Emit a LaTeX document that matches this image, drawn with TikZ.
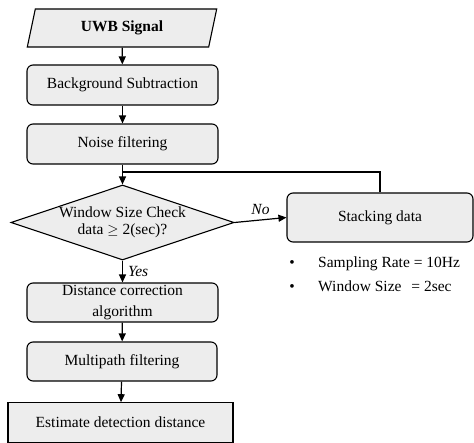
\documentclass[tikz,border=0pt]{standalone}
\usepackage{fontspec}
\setmainfont{Liberation Serif}
\usetikzlibrary{shapes.geometric,arrows.meta}
\begin{document}
\begin{tikzpicture}[x=1pt,y=-1pt,
  every node/.style={font=\fontsize{15.5}{15.5}\selectfont},
  boxbase/.style={draw, line width=1.1pt, fill=black!7, inner sep=0pt, align=center},
  procbox/.style={boxbase, rounded corners=6pt, minimum width=191pt, minimum height=40pt},
  iobox/.style={boxbase, trapezium, trapezium left angle=75, trapezium right angle=105,
    trapezium stretches=true, minimum width=190pt, minimum height=38pt},
  decbox/.style={boxbase, diamond, aspect=2.97, minimum width=223pt, minimum height=75pt},
  endbox/.style={boxbase, minimum width=225pt, minimum height=39.5pt},
  flow/.style={line width=1.2pt, -{Triangle[length=8pt,width=7pt]}},
  plain/.style={line width=1.2pt},
  tag/.style={font=\fontsize{15.5}{15.5}\selectfont\itshape, inner sep=0pt}
]
\useasboundingbox (0,0) rectangle (474,443);

\node[iobox] (uwb) at (122,28) {\textbf{UWB Signal}};
\node[procbox] (bg) at (122.5,85) {Background Subtraction};
\node[procbox] (noise) at (122.5,144) {Noise filtering};
\node[decbox, font=\fontsize{15.5}{17}\selectfont] (chk) at (122.5,222.5)
  {Window Size Check\\data $\geq$ 2(sec)?};
\node[procbox, minimum width=186pt, minimum height=49pt] (stack) at (380,217.5) {Stacking data};
\node[procbox, minimum height=39pt, font=\fontsize{15.5}{21}\selectfont] (dist) at (122.5,302.5)
  {Distance correction\\algorithm};
\node[procbox, minimum width=190pt, minimum height=39pt] (multi) at (122,361.5) {Multipath filtering};
\node[endbox] (est) at (120.5,422.5) {Estimate detection distance};

% sampling notes
\node[anchor=base, inner sep=0pt] (b1) at (292,268) {\textbullet};
\node[anchor=base west, inner sep=0pt] (rate) at (318,268) {Sampling Rate = 10Hz};
\node[anchor=base, inner sep=0pt] (b2) at (292,292) {\textbullet};
\node[anchor=base west, inner sep=0pt] (win) at (318,292) {Window Size\hspace{6pt} = 2sec};

% connectors
\coordinate (join) at (122.5,172);
\draw[flow] (uwb) -- (bg);
\draw[flow] (bg) -- (noise);
\draw[flow] (noise) -- (chk.north);
\draw[plain] (stack.north) |- (join);
\draw[flow] (chk.east) -- (stack.west) node[tag, midway, above=5pt] (no) {No};
\draw[flow] (chk.south) -- (dist.north) node[tag, midway, right=5pt] (yes) {Yes};
\draw[flow] (dist) -- (multi);
\draw[flow] (multi) -- (est);
\end{tikzpicture}
\end{document}
